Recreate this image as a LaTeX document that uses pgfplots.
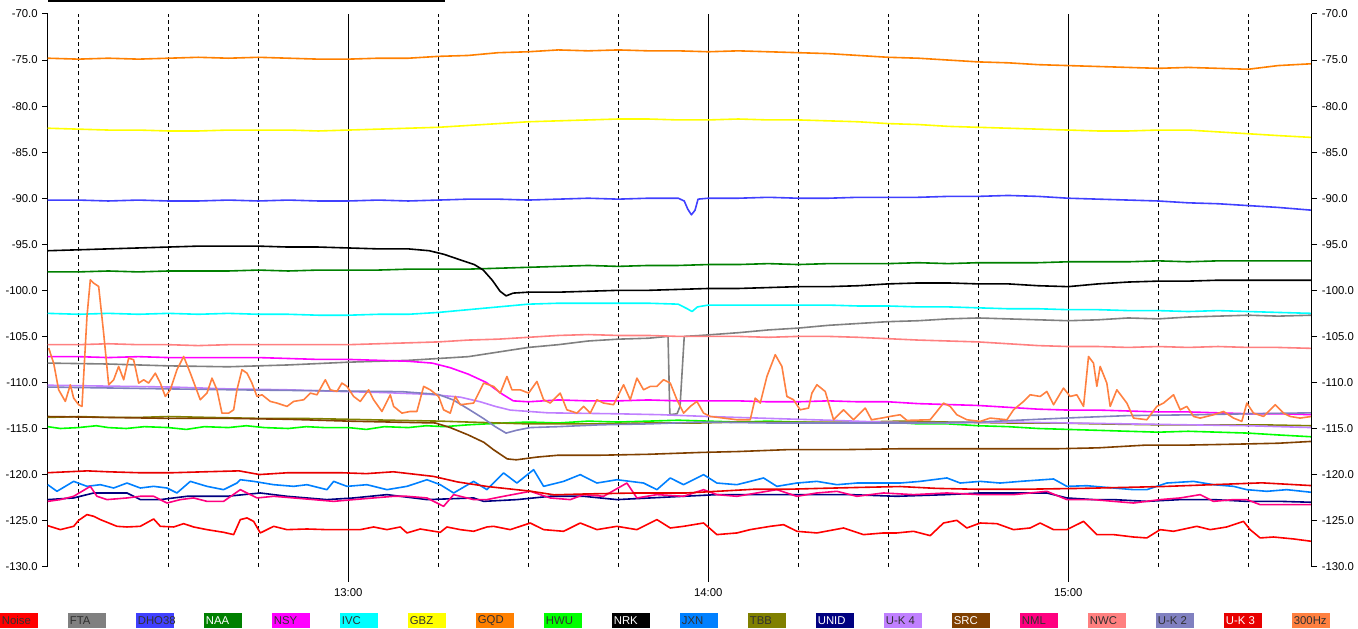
\documentclass[border=0pt]{standalone}
\usepackage{pgfplots}
\pgfplotsset{compat=1.18}
\usepackage{fontspec}
\setmainfont{Liberation Sans}
\definecolor{cNoise}{HTML}{FF0000}
\definecolor{cFTA}{HTML}{808080}
\definecolor{cDHO}{HTML}{4040FF}
\definecolor{cNAA}{HTML}{008000}
\definecolor{cNSY}{HTML}{FF00FF}
\definecolor{cIVC}{HTML}{00FFFF}
\definecolor{cGBZ}{HTML}{FFFF00}
\definecolor{cGQD}{HTML}{FF8000}
\definecolor{cHWU}{HTML}{00FF00}
\definecolor{cNRK}{HTML}{000000}
\definecolor{cJXN}{HTML}{0080FF}
\definecolor{cTBB}{HTML}{808000}
\definecolor{cUNID}{HTML}{000080}
\definecolor{cUKf}{HTML}{C080FF}
\definecolor{cSRC}{HTML}{804000}
\definecolor{cNML}{HTML}{FF0080}
\definecolor{cNWC}{HTML}{FF8080}
\definecolor{cUKb}{HTML}{8080C0}
\definecolor{cUKc}{HTML}{E80000}
\definecolor{cHz}{HTML}{FF8040}
\definecolor{ltxt}{HTML}{303030}
\pgfplotsset{
  geom/.style={
    at={(35.8pt,46pt)}, anchor=south west,
    scale only axis, width=948pt, height=414.5pt,
    xmin=9.9, xmax=220.6, ymin=-130, ymax=-70,
    ytick={-130,-125,...,-70},
    /pgf/number format/assume math mode=true,
    yticklabel style={/pgf/number format/fixed, /pgf/number format/fixed zerofill, /pgf/number format/precision=1},
    tick align=outside, major tick length=4pt, minor tick length=0pt,
    tick style={black, line width=0.75pt},
    axis line style={black, line width=0.75pt},
    ticklabel style={font=\fontsize{8.5}{10}\selectfont},
  }
}
\begin{document}
\begin{tikzpicture}
\path[use as bounding box] (0,0) rectangle (1018.5pt,471pt);
\fill[black] (35.8pt,469.5pt) rectangle (333.75pt,471pt);
\begin{axis}[geom,
  axis x line*=bottom, axis y line*=left,
  x axis line style={draw=none},
  xtick={60,120,180}, xticklabels={13:00,14:00,15:00},
  minor xtick={15,30,45,75,90,105,135,150,165,195,210},
  xmajorgrids, xminorgrids,
  major grid style={black, line width=0.75pt},
  minor grid style={black, line width=0.75pt, dash pattern=on 3pt off 2.5pt},
  xticklabel style={yshift=-9pt},
  clip=false,
  every axis plot/.append style={line width=1.2pt, line join=round},
]
% Noise
\addplot[cNoise] coordinates {(9.9,-125.55)(12.0,-125.98)(14.22,-125.62)(15.06,-124.97)(16.44,-124.35)(17.56,-124.53)(18.67,-124.89)(19.78,-125.18)(21.44,-125.62)(23.11,-125.69)(25.33,-125.62)(27.56,-124.82)(28.67,-125.62)(30.89,-125.69)(32.56,-125.33)(34.22,-125.69)(36.44,-125.98)(39.22,-126.27)(40.89,-126.52)(42.0,-124.89)(43.11,-124.71)(44.22,-125.08)(45.33,-126.34)(47.56,-125.62)(49.78,-125.98)(53.11,-125.91)(56.44,-125.98)(59.78,-125.98)(62.0,-125.98)(64.22,-125.69)(66.44,-125.98)(68.67,-125.69)(69.78,-126.34)(72.0,-125.91)(75.33,-126.27)(76.44,-125.69)(78.67,-125.98)(80.89,-126.16)(83.11,-125.69)(84.22,-125.62)(87.0,-125.98)(90.33,-125.26)(92.56,-125.98)(95.89,-126.16)(98.67,-125.26)(101.44,-125.98)(104.78,-125.62)(108.11,-125.98)(111.44,-124.89)(113.67,-125.80)(115.89,-125.62)(119.22,-125.26)(121.44,-126.52)(124.78,-126.34)(127.0,-125.98)(130.33,-125.62)(132.56,-125.44)(134.78,-126.16)(138.11,-126.34)(142.56,-125.80)(145.89,-126.52)(149.22,-126.34)(151.44,-126.34)(154.22,-126.16)(157.0,-126.63)(159.22,-125.26)(161.44,-124.97)(163.11,-125.80)(165.33,-125.26)(168.11,-125.33)(170.89,-125.98)(173.67,-125.80)(175.33,-125.26)(177.56,-125.98)(179.78,-125.98)(182.56,-125.08)(184.78,-126.52)(187.56,-126.52)(190.89,-126.78)(193.11,-126.88)(195.33,-125.98)(197.56,-126.16)(201.44,-125.62)(203.67,-125.98)(206.44,-125.69)(209.22,-125.08)(210.33,-125.98)(212.0,-126.88)(214.22,-126.78)(217.56,-126.99)(220.6,-127.25)};
% FTA
\addplot[cFTA] coordinates {(9.9,-107.9)(20,-108.0)(30,-108.2)(40,-108.3)(50,-108.1)(60,-107.8)(70,-107.6)(75,-107.4)(80,-107.2)(85,-106.7)(90,-106.2)(95,-105.9)(100,-105.5)(105,-105.3)(110,-105.2)(113.3,-105.0)(113.6,-113.5)(114.8,-113.4)(115.3,-112.6)(116.0,-105.0)(118.7,-104.9)(125,-104.6)(130,-104.3)(135,-104.1)(140,-103.8)(145,-103.6)(150,-103.4)(155,-103.3)(160,-103.1)(165,-103.0)(170,-103.1)(175,-103.2)(180,-103.3)(185,-103.2)(190,-103.0)(195,-103.1)(200,-102.9)(205,-102.8)(210,-102.7)(215,-102.8)(220.6,-102.7)};
% DHO38
\addplot[cDHO] coordinates {(9.9,-90.2)(15,-90.2)(20,-90.3)(25,-90.2)(30,-90.3)(35,-90.3)(40,-90.2)(45,-90.3)(50,-90.2)(55,-90.3)(60,-90.3)(65,-90.2)(70,-90.3)(75,-90.2)(80,-90.1)(85,-90.1)(90,-90.2)(95,-90.1)(100,-90.0)(105,-90.1)(110,-90.0)(115,-90.0)(116,-90.3)(116.6,-91.2)(117.2,-91.8)(117.8,-91.3)(118.3,-90.1)(120,-90.0)(125,-90.0)(130,-89.9)(135,-90.0)(140,-90.0)(145,-89.9)(150,-89.9)(155,-89.9)(160,-89.8)(165,-89.8)(170,-89.7)(175,-89.8)(180,-90.0)(185,-90.1)(190,-90.2)(195,-90.3)(200,-90.5)(205,-90.6)(210,-90.8)(215,-91.0)(220.6,-91.3)};
% NAA
\addplot[cNAA] coordinates {(9.9,-98.0)(15,-98.0)(20,-97.9)(25,-98.0)(30,-97.9)(35,-97.9)(40,-97.9)(45,-97.8)(50,-97.9)(55,-97.8)(60,-97.8)(65,-97.8)(70,-97.7)(75,-97.7)(80,-97.7)(85,-97.6)(90,-97.5)(95,-97.4)(100,-97.3)(105,-97.4)(110,-97.3)(115,-97.3)(120,-97.2)(125,-97.2)(130,-97.1)(135,-97.2)(140,-97.1)(145,-97.1)(150,-97.1)(155,-97.0)(160,-97.1)(165,-97.0)(170,-97.0)(175,-97.0)(180,-96.9)(185,-96.9)(190,-96.9)(195,-96.8)(200,-96.9)(205,-96.8)(210,-96.8)(215,-96.8)(220.6,-96.8)};
% NSY
\addplot[cNSY] coordinates {(9.9,-107.2)(15,-107.2)(20,-107.3)(25,-107.2)(30,-107.3)(35,-107.3)(40,-107.3)(45,-107.3)(50,-107.4)(55,-107.5)(60,-107.5)(65,-107.6)(70,-107.7)(74,-107.9)(77,-108.4)(80,-109.1)(83,-110.0)(85.5,-111.2)(87.5,-112.0)(90,-112.1)(95,-111.9)(100,-112.0)(105,-112.0)(110,-111.9)(115,-112.0)(120,-112.0)(125,-112.0)(130,-112.1)(135,-112.1)(140,-112.0)(145,-112.1)(150,-112.1)(155,-112.3)(160,-112.4)(165,-112.5)(170,-112.7)(175,-112.9)(180,-113.0)(185,-113.0)(190,-113.1)(195,-113.2)(200,-113.2)(205,-113.3)(210,-113.4)(215,-113.4)(220.6,-113.5)};
% IVC
\addplot[cIVC] coordinates {(9.9,-102.5)(15,-102.6)(20,-102.5)(25,-102.6)(30,-102.5)(35,-102.6)(40,-102.5)(45,-102.6)(50,-102.6)(55,-102.7)(60,-102.7)(65,-102.6)(70,-102.6)(75,-102.4)(80,-102.1)(85,-101.8)(90,-101.5)(95,-101.4)(100,-101.4)(105,-101.4)(110,-101.4)(115,-101.5)(116.5,-102.0)(117.3,-102.3)(118.2,-101.8)(120,-101.6)(125,-101.6)(130,-101.6)(135,-101.6)(140,-101.6)(145,-101.7)(150,-101.7)(155,-101.8)(160,-101.8)(165,-101.9)(170,-102.0)(175,-102.0)(180,-102.1)(185,-102.1)(190,-102.2)(195,-102.2)(200,-102.3)(205,-102.2)(210,-102.3)(215,-102.4)(220.6,-102.5)};
% GBZ
\addplot[cGBZ] coordinates {(9.9,-82.4)(15,-82.5)(20,-82.6)(25,-82.6)(30,-82.7)(35,-82.7)(40,-82.6)(45,-82.6)(50,-82.6)(55,-82.7)(60,-82.6)(65,-82.5)(70,-82.4)(75,-82.3)(80,-82.1)(85,-81.9)(90,-81.7)(95,-81.6)(100,-81.5)(105,-81.4)(110,-81.4)(115,-81.5)(120,-81.5)(125,-81.4)(130,-81.5)(135,-81.5)(140,-81.6)(145,-81.7)(150,-81.9)(155,-82.0)(160,-82.2)(165,-82.3)(170,-82.4)(175,-82.5)(180,-82.6)(185,-82.7)(190,-82.7)(195,-82.6)(200,-82.6)(205,-82.8)(210,-83.0)(215,-83.2)(220.6,-83.4)};
% GQD
\addplot[cGQD] coordinates {(9.9,-74.8)(15,-74.9)(20,-74.8)(25,-74.9)(30,-74.8)(35,-74.7)(40,-74.8)(45,-74.7)(50,-74.8)(55,-74.9)(60,-74.9)(65,-74.8)(70,-74.8)(75,-74.6)(80,-74.5)(85,-74.2)(90,-74.1)(95,-73.9)(100,-74.0)(105,-73.9)(110,-74.0)(115,-74.0)(120,-74.1)(125,-74.0)(130,-74.1)(135,-74.2)(140,-74.3)(145,-74.5)(150,-74.7)(155,-74.8)(160,-75.0)(165,-75.2)(170,-75.3)(175,-75.5)(180,-75.6)(185,-75.7)(190,-75.8)(195,-75.9)(200,-75.8)(205,-75.9)(210,-76.0)(215,-75.6)(220.6,-75.4)};
% HWU
\addplot[cHWU] coordinates {(9.9,-114.8)(12,-115.0)(15,-114.9)(18,-114.7)(20,-114.9)(23,-115.0)(26,-114.8)(30,-114.9)(33,-115.1)(36,-114.8)(40,-114.9)(43,-114.7)(46,-114.9)(50,-115.0)(53,-114.8)(56,-114.9)(60,-114.9)(63,-115.1)(66,-114.8)(70,-114.9)(73,-114.7)(76,-114.8)(80,-114.6)(83,-114.5)(86,-114.4)(90,-114.3)(95,-114.4)(100,-114.2)(105,-114.3)(110,-114.2)(115,-114.1)(120,-114.2)(125,-114.3)(130,-114.2)(135,-114.3)(140,-114.4)(145,-114.3)(150,-114.3)(155,-114.5)(160,-114.5)(165,-114.7)(170,-114.8)(175,-115.0)(180,-115.1)(185,-115.2)(190,-115.3)(195,-115.4)(200,-115.3)(205,-115.4)(210,-115.5)(215,-115.7)(220.6,-115.9)};
% NRK
\addplot[cNRK] coordinates {(9.9,-95.7)(15,-95.6)(20,-95.5)(25,-95.4)(30,-95.3)(35,-95.2)(40,-95.2)(45,-95.2)(50,-95.3)(55,-95.3)(60,-95.4)(65,-95.5)(70,-95.5)(73.5,-95.7)(76,-96.1)(78.7,-96.7)(81,-97.2)(82.5,-97.8)(84,-98.9)(85.3,-100.1)(86.3,-100.6)(87.5,-100.3)(90,-100.2)(95,-100.2)(100,-100.1)(105,-100.0)(110,-100.0)(115,-99.9)(120,-99.8)(125,-99.8)(130,-99.7)(135,-99.6)(140,-99.6)(145,-99.5)(150,-99.3)(155,-99.2)(160,-99.2)(165,-99.3)(170,-99.3)(175,-99.5)(180,-99.6)(185,-99.3)(190,-99.1)(195,-99.0)(200,-99.0)(205,-98.9)(210,-98.9)(215,-98.9)(220.6,-98.9)};
% JXN
\addplot[cJXN] coordinates {(9.9,-121.10)(11.44,-121.82)(14.22,-120.74)(16.44,-121.28)(18.67,-121.10)(20.89,-121.46)(23.11,-120.92)(25.33,-121.46)(27.56,-121.28)(29.78,-121.46)(31.44,-122.0)(33.67,-120.74)(36.44,-121.28)(39.22,-121.64)(41.44,-120.92)(42.0,-120.56)(44.22,-120.74)(47.56,-121.10)(50.89,-121.28)(53.11,-121.10)(56.44,-121.64)(57.56,-120.74)(59.78,-121.28)(63.11,-121.10)(66.44,-121.64)(69.78,-121.28)(73.11,-120.56)(75.33,-121.10)(77.56,-122.0)(80.89,-120.74)(83.11,-121.64)(85.89,-119.83)(88.11,-120.92)(90.89,-119.47)(92.56,-121.28)(95.89,-120.74)(98.67,-120.01)(101.44,-120.92)(104.78,-120.56)(107.0,-120.74)(109.22,-120.92)(111.44,-121.64)(113.67,-120.37)(115.89,-121.10)(119.22,-120.01)(121.44,-120.92)(124.78,-121.10)(127.0,-120.74)(129.22,-120.37)(131.44,-121.28)(134.78,-120.92)(138.11,-120.74)(141.44,-121.10)(144.78,-120.92)(149.22,-120.92)(152.0,-120.92)(155.33,-120.74)(159.78,-120.37)(162.0,-120.92)(165.33,-120.74)(168.67,-120.92)(172.0,-120.74)(177.56,-120.48)(179.78,-121.28)(183.11,-121.21)(187.56,-121.46)(190.89,-121.64)(193.11,-121.64)(196.44,-120.92)(200.89,-120.74)(204.22,-121.10)(207.56,-121.28)(209.78,-121.64)(213.11,-121.82)(216.44,-121.64)(220.6,-121.93)};
% TBB
\addplot[cTBB] coordinates {(9.9,-113.8)(15,-113.7)(20,-113.8)(25,-113.8)(30,-113.7)(37,-113.8)(45,-113.9)(52,-113.9)(60,-114.0)(67,-114.1)(75.3,-114.2)(80,-114.3)(85,-114.4)(90,-114.5)(95,-114.5)(102,-114.5)(110,-114.4)(118.7,-114.4)(125,-114.3)(135,-114.3)(145,-114.3)(152,-114.2)(160,-114.3)(170,-114.4)(178,-114.4)(185,-114.5)(195,-114.6)(205,-114.6)(212,-114.6)(220.6,-114.7)};
% UNID
\addplot[cUNID] coordinates {(9.9,-122.72)(14.22,-122.54)(17.56,-122.0)(23.11,-122.0)(25.33,-122.72)(28.67,-122.72)(33.11,-122.36)(39.78,-122.36)(45.33,-122.0)(49.78,-122.36)(56.44,-122.72)(60.89,-122.54)(66.44,-122.18)(73.11,-122.72)(80.89,-122.54)(82.56,-122.91)(88.11,-122.72)(93.67,-122.36)(99.22,-122.36)(104.78,-122.72)(110.33,-122.54)(115.89,-122.36)(121.44,-122.18)(127.0,-122.18)(132.56,-122.18)(138.11,-122.18)(143.67,-122.18)(151.44,-122.36)(159.78,-122.18)(165.33,-122.0)(170.89,-122.0)(176.44,-122.0)(179.78,-122.54)(184.22,-122.72)(187.56,-122.72)(193.11,-122.91)(198.67,-122.72)(204.22,-122.72)(209.78,-122.91)(215.33,-122.91)(220.6,-123.01)};
% U-K 4
\addplot[cUKf] coordinates {(9.9,-110.3)(20,-110.4)(30.7,-110.5)(40,-110.7)(50,-110.8)(59.8,-111.0)(66,-111.1)(73.7,-111.3)(78.7,-111.6)(82,-112.1)(84.5,-112.6)(87,-113.0)(93.3,-113.3)(104.5,-113.4)(112,-113.5)(120,-113.7)(130,-113.9)(140,-114.1)(148.7,-114.3)(160,-114.4)(170,-114.3)(180,-114.4)(190,-114.5)(200,-114.6)(210,-114.7)(220.6,-114.9)};
% SRC
\addplot[cSRC] coordinates {(9.9,-113.7)(20,-113.8)(30,-113.9)(40,-113.9)(50,-114.0)(60,-114.2)(67,-114.3)(74.5,-114.4)(77,-114.9)(80,-115.7)(82.6,-116.5)(84.2,-117.3)(86.5,-118.3)(88,-118.4)(91.5,-118.1)(95,-117.9)(102,-117.9)(110,-117.8)(118.7,-117.6)(125,-117.5)(133,-117.3)(142,-117.3)(152,-117.2)(165,-117.2)(178,-117.2)(185,-117.1)(193,-116.8)(200,-116.8)(208,-116.7)(215,-116.6)(220.6,-116.4)};
% NML
\addplot[cNML] coordinates {(9.9,-122.91)(12.0,-122.72)(14.22,-122.36)(17.0,-121.28)(18.11,-122.36)(19.78,-122.72)(23.11,-122.54)(25.33,-122.36)(27.56,-122.36)(29.78,-123.09)(32.0,-122.72)(34.22,-122.54)(36.44,-122.91)(39.22,-122.91)(42.0,-121.64)(44.78,-122.54)(47.56,-122.36)(50.89,-122.54)(54.22,-122.72)(57.56,-122.91)(60.89,-122.72)(64.22,-122.54)(67.56,-122.36)(69.78,-122.36)(73.11,-122.54)(75.89,-123.45)(77.56,-122.18)(80.89,-122.72)(83.11,-122.72)(85.89,-122.36)(90.33,-121.82)(93.67,-122.54)(97.0,-122.72)(99.22,-122.18)(102.56,-122.36)(106.44,-120.92)(108.11,-122.54)(111.44,-122.18)(115.89,-122.36)(119.22,-121.64)(121.44,-122.18)(124.78,-122.36)(128.11,-122.0)(131.44,-121.64)(134.78,-122.36)(138.11,-122.0)(141.44,-121.82)(144.78,-122.36)(149.22,-122.0)(154.22,-122.18)(159.78,-122.0)(165.33,-122.18)(170.89,-122.18)(176.44,-121.82)(179.78,-122.72)(184.22,-122.72)(187.56,-122.91)(190.89,-123.09)(195.33,-122.72)(198.67,-122.54)(202.0,-122.18)(204.22,-122.91)(207.56,-122.72)(209.78,-122.72)(212.0,-123.27)(215.33,-123.27)(220.6,-123.27)};
% NWC
\addplot[cNWC] coordinates {(9.9,-105.9)(15,-105.9)(20,-105.8)(25,-105.9)(30,-105.9)(35,-106.0)(40,-105.9)(45,-105.9)(50,-105.9)(55,-105.9)(60,-105.9)(65,-105.8)(70,-105.7)(75,-105.6)(80,-105.4)(85,-105.3)(90,-105.1)(95,-104.9)(100,-104.8)(105,-104.9)(110,-104.9)(115,-105.0)(120,-105.0)(125,-105.0)(130,-105.1)(135,-105.0)(140,-105.0)(145,-105.1)(150,-105.25)(155,-105.4)(160,-105.5)(165,-105.6)(170,-105.8)(175,-106.0)(180,-106.1)(185,-106.1)(190,-106.2)(195,-106.1)(200,-106.2)(205,-106.1)(210,-106.2)(215,-106.2)(220.6,-106.3)};
% U-K 2
\addplot[cUKb] coordinates {(9.9,-110.5)(20,-110.6)(30,-110.7)(41,-110.8)(55,-110.9)(69,-111.0)(75,-111.3)(77.5,-111.9)(80.3,-113.0)(82.5,-113.9)(84.5,-114.8)(86.3,-115.5)(88,-115.2)(90.3,-114.9)(95,-114.8)(102,-114.6)(110,-114.5)(118.7,-114.3)(130,-114.4)(140,-114.4)(148.7,-114.4)(155,-114.4)(165,-114.3)(175,-114.0)(182,-113.8)(190,-113.6)(202,-113.5)(210,-113.4)(220.6,-113.3)};
% U-K 3
\addplot[cUKc] coordinates {(9.9,-119.8)(16.5,-119.6)(20,-119.7)(25,-119.8)(30.8,-119.8)(36,-119.7)(41.8,-119.6)(45.2,-120.0)(50,-119.8)(58.7,-119.8)(63,-119.9)(67.5,-119.7)(74.2,-120.2)(78.2,-120.8)(83.2,-121.3)(90.3,-121.8)(94.3,-122.2)(100,-122.1)(108,-122.0)(116.3,-122.0)(122,-121.8)(127.5,-121.6)(133,-121.6)(138.7,-121.5)(145,-121.4)(152,-121.3)(158,-121.5)(165,-121.6)(172,-121.6)(182.3,-121.5)(189,-121.4)(195.7,-121.3)(204,-121.1)(212.3,-120.9)(220.6,-121.2)};
% 300Hz
\addplot[cHz] coordinates {(10.06,-106.27)(10.89,-107.90)(11.72,-110.80)(12.83,-112.06)(13.67,-110.25)(14.22,-111.70)(15.06,-112.42)(15.61,-112.60)(16.44,-102.84)(17.0,-98.86)(17.56,-99.22)(18.39,-99.58)(19.22,-104.65)(20.06,-110.25)(20.89,-109.71)(21.72,-108.26)(22.56,-109.71)(23.39,-107.36)(24.22,-107.54)(25.06,-110.07)(25.89,-109.71)(26.72,-110.07)(27.83,-108.99)(28.67,-110.07)(29.5,-111.52)(30.33,-110.80)(31.44,-108.62)(32.56,-107.18)(33.67,-108.99)(35.33,-111.88)(36.44,-111.16)(37.28,-109.53)(38.11,-110.80)(38.94,-113.33)(40.06,-113.33)(40.89,-112.97)(41.44,-110.80)(42.28,-108.62)(43.11,-108.99)(43.94,-110.07)(44.78,-111.52)(45.61,-111.34)(47.0,-112.06)(48.11,-112.24)(49.78,-112.60)(50.89,-112.06)(52.56,-111.88)(53.67,-111.16)(54.78,-111.34)(56.17,-109.71)(57.0,-110.80)(58.11,-110.98)(58.94,-110.07)(59.78,-110.43)(60.89,-111.52)(62.0,-112.06)(63.39,-110.80)(64.22,-111.88)(65.61,-113.15)(67.0,-111.34)(67.56,-112.60)(68.94,-113.33)(70.33,-113.15)(71.44,-113.15)(72.56,-110.43)(73.67,-110.80)(75.06,-111.52)(75.89,-112.97)(77.0,-113.33)(77.83,-111.52)(78.67,-112.42)(80.89,-112.24)(82.56,-110.07)(84.22,-110.43)(85.33,-111.16)(86.44,-109.35)(87.28,-110.80)(88.67,-110.80)(90.06,-111.16)(91.44,-109.89)(92.56,-111.88)(93.67,-112.24)(95.33,-111.16)(96.44,-112.97)(98.11,-113.33)(99.22,-112.60)(100.33,-113.33)(101.44,-111.88)(102.56,-112.24)(104.22,-112.42)(105.89,-110.25)(107.0,-111.88)(108.11,-109.53)(109.22,-110.80)(110.33,-110.43)(111.44,-110.43)(112.56,-109.71)(113.67,-110.07)(114.78,-111.88)(115.89,-113.33)(117.0,-112.60)(118.11,-112.06)(119.22,-113.33)(120.33,-113.69)(122.56,-113.87)(124.78,-114.05)(127.0,-114.05)(127.83,-111.70)(128.67,-112.24)(129.78,-109.35)(131.17,-106.99)(132.28,-108.26)(133.11,-111.52)(134.22,-111.88)(135.33,-112.97)(136.72,-112.78)(137.28,-111.16)(138.11,-110.25)(139.5,-110.98)(140.89,-114.05)(142.56,-112.97)(144.22,-114.05)(146.17,-112.78)(147.22,-114.05)(148.89,-113.87)(150.33,-113.69)(152.0,-113.51)(153.11,-114.12)(157.0,-114.05)(158.11,-113.15)(159.22,-112.24)(160.33,-112.60)(161.44,-113.51)(163.11,-114.05)(165.33,-114.23)(167.0,-113.87)(169.78,-114.05)(170.89,-112.97)(172.56,-112.06)(173.67,-111.34)(175.33,-111.52)(176.44,-110.98)(177.56,-112.42)(179.22,-110.61)(180.33,-111.52)(181.44,-111.34)(182.56,-112.60)(183.39,-107.18)(184.22,-107.90)(184.78,-110.43)(185.33,-108.26)(186.44,-110.07)(187.0,-112.60)(188.11,-110.80)(189.78,-112.24)(190.89,-113.87)(193.11,-114.05)(194.78,-112.60)(195.89,-112.24)(197.56,-111.34)(198.67,-112.97)(199.78,-112.60)(200.89,-113.69)(202.0,-113.87)(204.22,-113.51)(205.89,-113.15)(207.56,-113.87)(208.94,-114.23)(209.78,-112.24)(210.89,-113.33)(212.56,-113.69)(214.5,-112.42)(215.89,-113.33)(217.0,-113.69)(218.67,-113.87)(220.6,-113.69)};
\draw[black, line width=0.75pt] (axis cs:60,-130) -- ++(0pt,-11.25pt);
\draw[black, line width=0.75pt] (axis cs:120,-130) -- ++(0pt,-11.25pt);
\draw[black, line width=0.75pt] (axis cs:180,-130) -- ++(0pt,-11.25pt);
\end{axis}
\begin{axis}[geom, axis y line*=right, axis x line=none, yticklabel pos=right]
\end{axis}
\foreach \i/\n/\c/\t in {0/Noise/cNoise/ltxt,1/FTA/cFTA/ltxt,2/DHO38/cDHO/ltxt,3/NAA/cNAA/white,4/NSY/cNSY/ltxt,5/IVC/cIVC/ltxt,6/GBZ/cGBZ/ltxt,7/GQD/cGQD/ltxt,8/HWU/cHWU/ltxt,9/NRK/cNRK/white,10/JXN/cJXN/ltxt,11/TBB/cTBB/ltxt,12/UNID/cUNID/white,13/U-K 4/cUKf/ltxt,14/SRC/cSRC/white,15/NML/cNML/ltxt,16/NWC/cNWC/ltxt,17/U-K 2/cUKb/ltxt,18/U-K 3/cUKc/white,19/300Hz/cHz/ltxt}{
  \node[fill=\c, text=\t, anchor=south west, inner sep=0pt, minimum width=28.5pt, minimum height=11pt, font=\fontsize{8.5}{9}\selectfont] at (\i*51pt,0pt) {\hspace{1.2pt}\makebox[27.3pt][l]{\n}};
}
\end{tikzpicture}
\end{document}
